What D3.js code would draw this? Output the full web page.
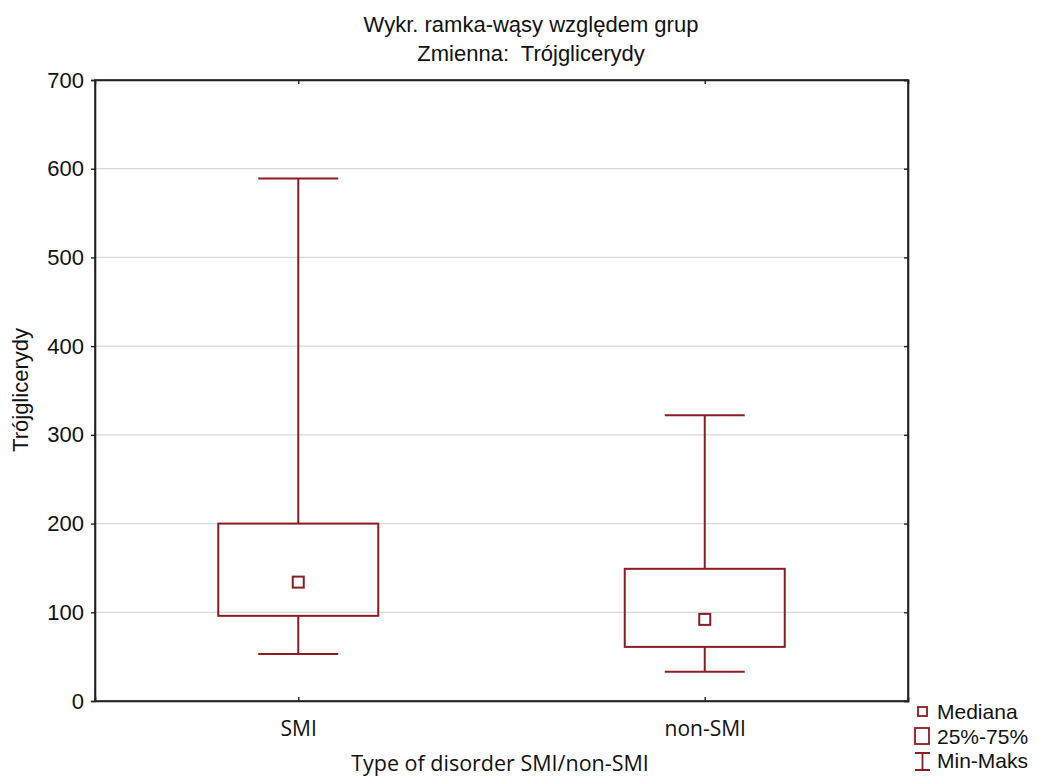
<!DOCTYPE html>
<html>
<head>
<meta charset="utf-8">
<script src="https://cdn.jsdelivr.net/npm/d3@7"></script>
<style>
  body { margin: 0; background: #fff; }
</style>
</head>
<body>
<div id="chart"></div>
<script>
// Box-whisker chart: Trójglicerydy by group

// Data
var groups = ['SMI', 'non-SMI'];
var mins = [53, 33];
var q1s = [96, 61];
var medians = [134, 92];
var q3s = [200, 149];
var maxs = [589, 322];
var yTicks = [0, 100, 200, 300, 400, 500, 600, 700];
var legendLabels = ['Mediana', '25%-75%', 'Min-Maks'];

var boxes = groups.map(function (g, i) {
  return { group: g, min: mins[i], q1: q1s[i], med: medians[i], q3: q3s[i], max: maxs[i] };
});

var red = '#8c1b22';
var W = 1037, H = 778;
var mLeft = 95, mRight = 908, mTop = 80, mBottom = 701;

var svg = d3.select('#chart')
  .append('svg')
  .attr('width', W)
  .attr('height', H);

var x = d3.scalePoint().domain(groups).range([mLeft, mRight]).padding(0.5);
var y = d3.scaleLinear().domain([0, 700]).range([mBottom, mTop]);

// Grid lines
svg.append('g')
  .selectAll('line')
  .data(yTicks.slice(1, -1))
  .enter()
  .append('line')
  .attr('x1', mLeft)
  .attr('x2', mRight)
  .attr('y1', function (d) { return y(d); })
  .attr('y2', function (d) { return y(d); })
  .style('stroke', '#d9d9d9')
  .style('stroke-width', 1.2);

// Axes
var axisFont = '22px "Liberation Sans", Arial, sans-serif';

var yAxis = svg.append('g')
  .attr('transform', 'translate(' + mLeft + ',0)')
  .call(d3.axisLeft(y).tickValues(yTicks).tickSize(4).tickPadding(7));
yAxis.selectAll('text').style('font', axisFont).style('fill', '#111');

svg.append('g')
  .attr('transform', 'translate(' + mRight + ',0)')
  .call(d3.axisRight(y).tickValues(yTicks).tickSize(-4).tickFormat(''));

var xAxis = svg.append('g')
  .attr('transform', 'translate(0,' + mBottom + ')')
  .call(d3.axisBottom(x).tickSize(-4).tickPadding(20));
xAxis.selectAll('text')
  .style('font', '21px "Open Sans", "DejaVu Sans", sans-serif')
  .style('fill', '#111');

svg.append('g')
  .attr('transform', 'translate(0,' + mTop + ')')
  .call(d3.axisTop(x).tickSize(-4).tickFormat(''));

svg.selectAll('.domain').style('stroke', '#222').style('stroke-width', 1.6);
svg.selectAll('.tick line').style('stroke', '#222').style('stroke-width', 1.4);

// Frame
svg.append('rect')
  .attr('x', mLeft)
  .attr('y', mTop)
  .attr('width', mRight - mLeft)
  .attr('height', mBottom - mTop)
  .style('fill', 'none')
  .style('stroke', '#222')
  .style('stroke-width', 1.6);

// Boxes
var boxW = 160, capW = 80, medS = 11;
var g = svg.append('g')
  .selectAll('g')
  .data(boxes)
  .enter()
  .append('g')
  .style('stroke', red)
  .style('stroke-width', 2)
  .style('fill', 'none');

g.append('line')
  .attr('x1', function (d) { return x(d.group); })
  .attr('x2', function (d) { return x(d.group); })
  .attr('y1', function (d) { return y(d.max); })
  .attr('y2', function (d) { return y(d.q3); });

g.append('line')
  .attr('x1', function (d) { return x(d.group); })
  .attr('x2', function (d) { return x(d.group); })
  .attr('y1', function (d) { return y(d.q1); })
  .attr('y2', function (d) { return y(d.min); });

g.append('line')
  .attr('x1', function (d) { return x(d.group) - capW / 2; })
  .attr('x2', function (d) { return x(d.group) + capW / 2; })
  .attr('y1', function (d) { return y(d.max); })
  .attr('y2', function (d) { return y(d.max); });

g.append('line')
  .attr('x1', function (d) { return x(d.group) - capW / 2; })
  .attr('x2', function (d) { return x(d.group) + capW / 2; })
  .attr('y1', function (d) { return y(d.min); })
  .attr('y2', function (d) { return y(d.min); });

g.append('rect')
  .attr('x', function (d) { return x(d.group) - boxW / 2; })
  .attr('y', function (d) { return y(d.q3); })
  .attr('width', boxW)
  .attr('height', function (d) { return y(d.q1) - y(d.q3); });

g.append('rect')
  .attr('x', function (d) { return x(d.group) - medS / 2; })
  .attr('y', function (d) { return y(d.med) - medS / 2; })
  .attr('width', medS)
  .attr('height', medS);

// Titles
var titleFont = '22px "Liberation Sans", Arial, sans-serif';
svg.append('text')
  .attr('x', 531)
  .attr('y', 32)
  .attr('text-anchor', 'middle')
  .style('font', titleFont)
  .style('fill', '#111')
  .text('Wykr. ramka-wąsy względem grup');

svg.append('text')
  .attr('x', 531)
  .attr('y', 61)
  .attr('text-anchor', 'middle')
  .style('font', titleFont)
  .style('fill', '#111')
  .style('white-space', 'pre')
  .text('Zmienna:  Trójglicerydy');

svg.append('text')
  .attr('transform', 'translate(28,390) rotate(-90)')
  .attr('text-anchor', 'middle')
  .style('font', titleFont)
  .style('fill', '#111')
  .text('Trójglicerydy');

svg.append('text')
  .attr('x', 500)
  .attr('y', 771)
  .attr('text-anchor', 'middle')
  .style('font', '21.5px "Open Sans", "DejaVu Sans", sans-serif')
  .style('fill', '#111')
  .text('Type of disorder SMI/non-SMI');

// Legend
var leg = svg.append('g');
var legFont = '21px "Liberation Sans", Arial, sans-serif';
leg.append('rect').attr('x', 918).attr('y', 707).attr('width', 9).attr('height', 9)
  .style('fill', 'none').style('stroke', red).style('stroke-width', 1.8);
leg.append('rect').attr('x', 915).attr('y', 728).attr('width', 14).attr('height', 16)
  .style('fill', 'none').style('stroke', red).style('stroke-width', 1.8);
leg.append('path').attr('d', 'M915,753H930M922.5,753V770M915,770H930')
  .style('fill', 'none').style('stroke', red).style('stroke-width', 1.8);

leg.selectAll('text.leg')
  .data(legendLabels)
  .enter()
  .append('text')
  .attr('class', 'leg')
  .attr('x', 937)
  .attr('y', function (d, i) { return 719 + i * 24.5; })
  .style('font', legFont)
  .style('fill', '#111')
  .text(function (d) { return d; });
</script>
</body>
</html>
